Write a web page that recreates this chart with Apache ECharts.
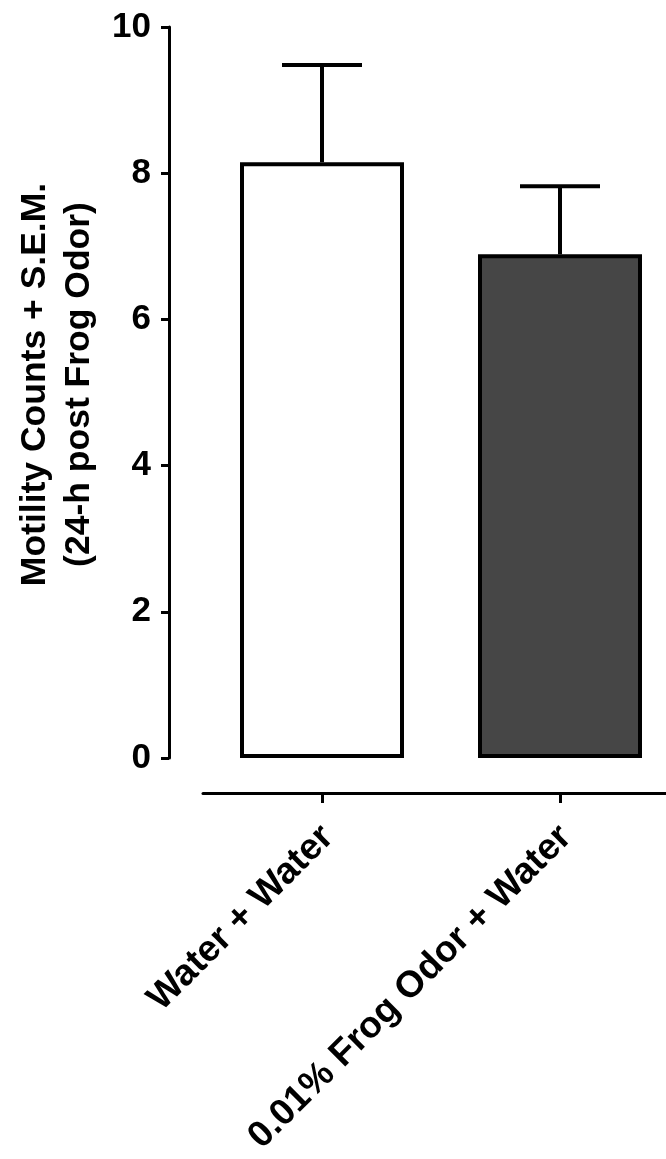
<!DOCTYPE html>
<html>
<head>
<meta charset="utf-8">
<script src="https://cdn.jsdelivr.net/npm/echarts@6/dist/echarts.min.js"></script>
<style>
html,body{margin:0;padding:0;background:#fff;}
#chart{width:666px;height:1159px;}
</style>
</head>
<body>
<div id="chart"></div>
<script>
const categories = ['Water + Water', '0.01% Frog Odor + Water'];
const means = [8.15, 6.89];
const sems = [1.33, 0.93];
const barColors = ['#ffffff', '#464646'];
const yTicks = [0, 2, 4, 6, 8, 10];

const FONT = '"Liberation Sans", Arial, Helvetica, sans-serif';
const chart = echarts.init(document.getElementById('chart'), null, {renderer: 'canvas'});

const option = {
  backgroundColor: '#ffffff',
  animation: false,
  grid: {left: 203, width: 476, top: 27, bottom: 401, containLabel: false, outerBoundsMode: 'none'},
  xAxis: {
    type: 'category',
    data: categories,
    offset: 35,
    axisLine: {onZero: false, lineStyle: {color: '#000', width: 3}},
    axisTick: {show: true, interval: 0, alignWithLabel: true, length: 10, lineStyle: {color: '#000', width: 3}},
    axisLabel: {
      interval: 0, rotate: 45, margin: 33, align: 'right', verticalAlign: 'top', lineHeight: 16,
      color: '#000', fontFamily: FONT, fontWeight: 'bold', fontSize: 37
    }
  },
  yAxis: {
    type: 'value',
    min: yTicks[0], max: yTicks[yTicks.length - 1], interval: 2,
    offset: 34,
    splitLine: {show: false},
    axisLine: {show: true, lineStyle: {color: '#000', width: 3}},
    axisTick: {show: true, length: 8, lineStyle: {color: '#000', width: 3}},
    axisLabel: {
      margin: 18, color: '#000', fontFamily: FONT, fontWeight: 'bold', fontSize: 35
    },
    name: 'Motility Counts + S.E.M.\n(24-h post Frog Odor)',
    nameLocation: 'middle',
    nameGap: 68,
    nameTextStyle: {
      color: '#000', fontFamily: FONT, fontWeight: 'bold', fontSize: 35.5,
      lineHeight: 44, align: 'center', padding: [0, 0, 0, 16]
    }
  },
  series: [
    {
      type: 'bar',
      barWidth: 164,
      data: means.map((v, i) => ({
        value: v,
        itemStyle: {color: barColors[i], borderColor: '#000', borderWidth: 4}
      })),
      z: 2
    },
    {
      type: 'custom',
      z: 3,
      data: means.map((v, i) => [i, v, v + sems[i]]),
      renderItem: function (params, api) {
        const x = api.value(0);
        const p0 = api.coord([x, api.value(1)]);
        const p1 = api.coord([x, api.value(2)]);
        const half = 40;
        const style = {stroke: '#000', lineWidth: 4, lineCap: 'butt'};
        return {
          type: 'group',
          children: [
            {type: 'line', shape: {x1: p0[0], y1: p0[1], x2: p1[0], y2: p1[1]}, style: style},
            {type: 'line', shape: {x1: p1[0] - half, y1: p1[1], x2: p1[0] + half, y2: p1[1]}, style: style}
          ]
        };
      }
    }
  ]
};
chart.setOption(option);
</script>
</body>
</html>
